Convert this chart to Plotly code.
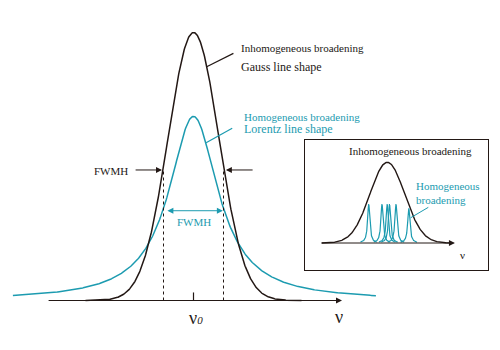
import numpy as np
import plotly.graph_objects as go

# ---------------- data (diagram parameters) ----------------
# main panel: frequency in units of the Gauss half-width, intensity relative to Gauss peak
main_centre = 0.0
gauss_peak = 1.0
gauss_hwhm = 1.0
lorentz_peak = 0.687
lorentz_hwhm = 1.0
gauss_span = [-3.6, 3.6]
lorentz_span = [-6.02, 6.08]
axis_span = [-4.88, 4.95]

# inset: inhomogeneous envelope made of narrow homogeneous lines
inset_gauss_peak = 1.0
inset_gauss_hwhm = 1.0
inset_line_centres = [-0.907, -0.259, -0.005, 0.107, 0.424, 1.049]
inset_line_heights = [0.483, 0.483, 0.483, 0.483, 0.483, 0.43]
inset_line_hwhm = 0.065
inset_axis_span = [-3.28, 3.30]

# texts
tick_labels = ["ν<span style='font-size:11px'><i>0</i></span>", "ν"]
label_gauss = ["Inhomogeneous broadening", "Gauss line shape"]
label_lorentz = ["Homogeneous broadening", "Lorentz line shape"]
label_fwhm = "FWMH"
inset_title = "Inhomogeneous broadening"
inset_label = "Homogeneous<br>broadening"

BLACK = "#231815"
TEAL = "#1c9bb0"
FONT = "Liberation Serif"


def gauss(x, c, a, hw):
    s = hw / np.sqrt(2 * np.log(2))
    return a * np.exp(-0.5 * ((x - c) / s) ** 2)


def lorentz(x, c, a, hw):
    return a / (1 + ((x - c) / hw) ** 2)


fig = go.Figure()

# main curves
xl = np.linspace(lorentz_span[0], lorentz_span[1], 600)
fig.add_trace(go.Scatter(x=xl, y=lorentz(xl, main_centre, lorentz_peak, lorentz_hwhm),
                         mode="lines", line=dict(color=TEAL, width=1.5), hoverinfo="skip"))
xg = np.linspace(gauss_span[0], gauss_span[1], 500)
fig.add_trace(go.Scatter(x=xg, y=gauss(xg, main_centre, gauss_peak, gauss_hwhm),
                         mode="lines", line=dict(color=BLACK, width=1.5), hoverinfo="skip"))

# inset curves
xi = np.linspace(-3.2, 3.2, 400)
fig.add_trace(go.Scatter(x=xi, y=gauss(xi, 0, inset_gauss_peak, inset_gauss_hwhm),
                         mode="lines", line=dict(color=BLACK, width=1.4),
                         xaxis="x2", yaxis="y2", hoverinfo="skip"))
for c, h in zip(inset_line_centres, inset_line_heights):
    xs = np.linspace(c - 0.4, c + 0.4, 121)
    fig.add_trace(go.Scatter(x=xs, y=lorentz(xs, c, h, inset_line_hwhm),
                             mode="lines", line=dict(color=TEAL, width=1.2),
                             xaxis="x2", yaxis="y2", hoverinfo="skip"))

half_g = gauss_peak / 2
shapes = [
    # centre tick
    dict(type="line", x0=main_centre, x1=main_centre, y0=0, y1=0.03, xref="x", yref="y",
         line=dict(color=BLACK, width=1.2)),
    # dotted FWHM guides
    dict(type="line", x0=-gauss_hwhm, x1=-gauss_hwhm, y0=0, y1=half_g * 0.98, xref="x", yref="y",
         line=dict(color=BLACK, width=1, dash="dot")),
    dict(type="line", x0=gauss_hwhm, x1=gauss_hwhm, y0=0, y1=half_g * 0.98, xref="x", yref="y",
         line=dict(color=BLACK, width=1, dash="dot")),
    # leader lines
    dict(type="line", x0=0.44, y0=0.872, x1=1.33, y1=0.922, xref="x", yref="y",
         line=dict(color=BLACK, width=1.2)),
    dict(type="line", x0=0.42, y0=0.589, x1=1.29, y1=0.643, xref="x", yref="y",
         line=dict(color=TEAL, width=1.2)),
    dict(type="line", x0=1.14, y0=0.313, x1=2.0, y1=0.442, xref="x2", yref="y2",
         line=dict(color=TEAL, width=1)),
]

ann = []


def arrow(x, y, ax, ay, color, xr="x", yr="y", both=False):
    d = dict(x=x, y=y, ax=ax, ay=ay, xref=xr, yref=yr, axref=xr, ayref=yr, text="",
             showarrow=True, arrowhead=2, arrowsize=1.2, arrowwidth=1, arrowcolor=color,
             standoff=0, startstandoff=0)
    if both:
        d.update(arrowside="end+start", startarrowhead=2, startarrowsize=1.2)
    ann.append(d)


# axes with arrows
arrow(axis_span[1], 0, axis_span[0], 0, BLACK)
arrow(inset_axis_span[1], 0, inset_axis_span[0], 0, BLACK, "x2", "y2")
# black FWHM arrows at Gauss half max
arrow(-1.05, 0.487, -1.98, 0.487, BLACK)
arrow(1.08, 0.487, 2.02, 0.487, BLACK)
# teal double arrow at Lorentz half max
arrow(0.98, 0.335, -0.92, 0.335, TEAL, both=True)


def text(t, px, py, size, color, xanchor="left"):
    ann.append(dict(text=t, x=px / 500, y=1 - py / 350, xref="paper", yref="paper",
                    xanchor=xanchor, yanchor="middle", showarrow=False,
                    font=dict(family=FONT, size=size, color=color)))


text(label_gauss[0], 239, 48, 11, BLACK)
text(label_gauss[1], 239, 67, 12, BLACK)
text(label_lorentz[0], 242, 117, 11, TEAL)
text(label_lorentz[1], 242, 129, 12, TEAL)
text(label_fwhm, 92, 171, 11, BLACK)
text(label_fwhm, 193.5, 222, 11, TEAL, "center")
text(tick_labels[0], 196, 318, 18, BLACK, "center")
text(tick_labels[1], 339, 317, 18, BLACK, "center")
text(inset_title, 347, 151, 11, BLACK)
ann.append(dict(text=inset_label, x=414 / 500, y=1 - 193 / 350, xref="paper", yref="paper",
                xanchor="left", yanchor="middle", showarrow=False, align="left",
                font=dict(family=FONT, size=11, color=TEAL)))
text("ν", 462, 255, 11, BLACK, "center")

# inset box geometry in pixels (x from 305 to 488, y from 140 to 270)
fig.update_layout(
    width=500, height=350, margin=dict(l=0, r=0, t=0, b=0),
    font=dict(family=FONT),
    paper_bgcolor="white", plot_bgcolor="rgba(0,0,0,0)", showlegend=False,
    xaxis=dict(domain=[0, 1], range=[-193.5 / 30, 306.5 / 30], visible=False, fixedrange=True),
    yaxis=dict(domain=[0, 1], range=[-49.5 / 268, 300.5 / 268], visible=False, fixedrange=True),
    xaxis2=dict(domain=[305.3 / 500, 487.7 / 500], range=[(305.3 - 387.3) / 20.5, (487.7 - 387.3) / 20.5],
                anchor="y2", showline=True, mirror=True, linecolor=BLACK, linewidth=1.3,
                showticklabels=False, ticks="", showgrid=False, zeroline=False, fixedrange=True),
    yaxis2=dict(domain=[1 - 270 / 350, 1 - 140 / 350], range=[-27 / 80.7, 103 / 80.7],
                anchor="x2", showline=True, mirror=True, linecolor=BLACK, linewidth=1.3,
                showticklabels=False, ticks="", showgrid=False, zeroline=False, fixedrange=True),
    shapes=shapes, annotations=ann,
)

fig.write_html("out.html")
